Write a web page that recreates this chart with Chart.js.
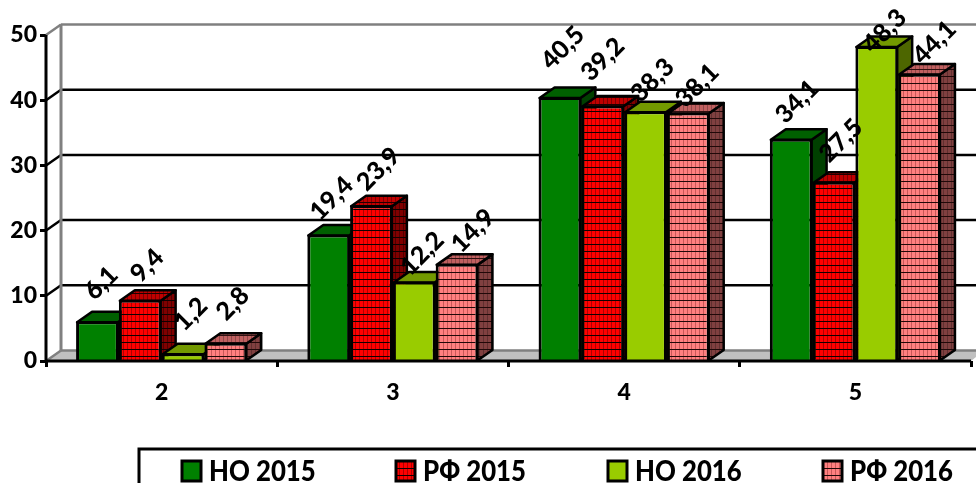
<!DOCTYPE html>
<html>
<head>
<meta charset="utf-8">
<style>
  html, body { margin: 0; padding: 0; background: #fff; overflow: hidden; }
  canvas { display: block; }
</style>
<script src="https://cdn.jsdelivr.net/npm/chart.js@4"></script>
</head>
<body>
<canvas id="chart" width="976" height="483"></canvas>
<script>
const categories = ['2', '3', '4', '5'];
const seriesNames = ['НО 2015', 'РФ 2015', 'НО 2016', 'РФ 2016'];
const no2015 = [6.1, 19.4, 40.5, 34.1];
const rf2015 = [9.4, 23.9, 39.2, 27.5];
const no2016 = [1.2, 12.2, 38.3, 48.3];
const rf2016 = [2.8, 14.9, 38.1, 44.1];

const FONT = 'Lato, Carlito, "Open Sans", sans-serif';
const DEPTH_X = 15;
const DEPTH_Y = -10.5;

// small nudges for the data labels, they were hand placed in the original
const labelNudge = [
  [[4, -38], [3, -36], [3, -49], [6, -37]],
  [[7, -34], [7, -36], [0, -46], [7, -41]],
  [[8, -39], [8, -28], [7, -31], [8, -15]],
  [[7, -39], [16, -33], [9, -27], [15, -31]]
];

function gridPattern(base, line, hLine) {
  const c = document.createElement('canvas');
  c.width = 4;
  c.height = 7;
  const g = c.getContext('2d');
  g.fillStyle = base;
  g.fillRect(0, 0, 4, 7);
  g.fillStyle = line;
  g.fillRect(3, 0, 1, 7);
  g.fillStyle = hLine;
  g.fillRect(0, 6, 4, 1);
  return document.createElement('canvas').getContext('2d').createPattern(c, 'repeat');
}

const fronts = ['#008000', gridPattern('#ff0000', '#b00000', '#100000'), '#99cc00', gridPattern('#ff8080', '#c85858', '#200808')];
const tops = ['#006000', gridPattern('#c00000', '#800000', '#200000'), '#739900', gridPattern('#c06060', '#904848', '#301010')];
const sides = ['#004000', gridPattern('#800000', '#500000', '#100000'), '#4d6600', gridPattern('#804040', '#603030', '#200808')];

function face(ctx, pts, fill) {
  ctx.beginPath();
  pts.forEach((p, i) => (i ? ctx.lineTo(p[0], p[1]) : ctx.moveTo(p[0], p[1])));
  ctx.closePath();
  ctx.fillStyle = fill;
  ctx.fill();
  ctx.stroke();
}

function drawWall(chart) {
  const { ctx, scales, width } = chart;
  const y = scales.y;
  const left = scales.x.left;
  const right = scales.x.right;
  const y0 = y.getPixelForValue(0);
  ctx.save();

  ctx.fillStyle = '#c0c0c0';
  ctx.beginPath();
  ctx.moveTo(left, y0);
  ctx.lineTo(left + DEPTH_X, y0 + DEPTH_Y);
  ctx.lineTo(width, y0 + DEPTH_Y);
  ctx.lineTo(width, y0 - 4);
  ctx.lineTo(right, y0);
  ctx.closePath();
  ctx.fill();

  y.ticks.forEach(t => {
    const py = y.getPixelForValue(t.value);
    ctx.lineWidth = 2.5;
    ctx.strokeStyle = t.value === 50 || t.value === 0 ? '#808080' : '#000';
    ctx.beginPath();
    ctx.moveTo(left + DEPTH_X, py + DEPTH_Y);
    ctx.lineTo(width, py + DEPTH_Y);
    ctx.stroke();
    ctx.beginPath();
    ctx.moveTo(left, py);
    ctx.lineTo(left + DEPTH_X, py + DEPTH_Y);
    ctx.stroke();
  });

  ctx.strokeStyle = '#808080';
  ctx.lineWidth = 3;
  ctx.beginPath();
  ctx.moveTo(left + DEPTH_X, y.getPixelForValue(50) + DEPTH_Y);
  ctx.lineTo(left + DEPTH_X, y0 + DEPTH_Y);
  ctx.stroke();
  ctx.restore();
}

// chart.js paints the first dataset last, here it has to go first so the
// next bar covers the side of the previous one
const depthPlugin = {
  id: 'depth',
  beforeDatasetsDraw(chart) {
    drawWall(chart);
    const { ctx } = chart;
    chart.data.datasets.forEach((ds, i) => {
      const meta = chart.getDatasetMeta(i);
      ctx.save();
      ctx.strokeStyle = '#000';
      ctx.lineWidth = 2.5;
      ctx.lineJoin = 'round';
      meta.data.forEach(bar => {
        const l = bar.x - bar.width / 2 + 1;
        const r = bar.x + bar.width / 2 - 1;
        const t = bar.y + 1;
        const b = bar.base;
        face(ctx, [[r, b], [r + DEPTH_X, b + DEPTH_Y], [r + DEPTH_X, t + DEPTH_Y], [r, t]], sides[i]);
        face(ctx, [[l, t], [l + DEPTH_X, t + DEPTH_Y], [r + DEPTH_X, t + DEPTH_Y], [r, t]], tops[i]);
      });
      ctx.restore();
      meta.controller.draw();
    });
  },
  beforeDatasetDraw() {
    return false;
  }
};

// rotated values, axis lines and the boxed legend go on last
const overlayPlugin = {
  id: 'overlay',
  afterDraw(chart) {
    const { ctx, scales, width, height } = chart;
    const left = scales.x.left;
    const y0 = scales.y.getPixelForValue(0);
    ctx.save();

    ctx.strokeStyle = '#000';
    ctx.lineWidth = 3;
    ctx.beginPath();
    ctx.moveTo(left, scales.y.getPixelForValue(50));
    ctx.lineTo(left, y0);
    ctx.lineTo(scales.x.right, y0);
    ctx.stroke();

    ctx.fillStyle = '#000';
    ctx.font = '900 25px ' + FONT;
    ctx.textAlign = 'center';
    ctx.textBaseline = 'middle';
    chart.data.datasets.forEach((ds, i) => {
      chart.getDatasetMeta(i).data.forEach((bar, j) => {
        const [dx, dy] = labelNudge[i][j];
        ctx.save();
        ctx.translate(bar.x + dx, bar.y + dy);
        ctx.rotate(-Math.PI / 4);
        ctx.fillText(String(ds.data[j]).replace('.', ','), 0, 0);
        ctx.restore();
      });
    });

    ctx.strokeRect(139, 449, width, height);
    const swatchX = [182, 396, 608, 823];
    ctx.textAlign = 'left';
    chart.data.datasets.forEach((ds, i) => {
      ctx.fillStyle = ds.backgroundColor;
      ctx.fillRect(swatchX[i], 461, 19, 20);
      ctx.strokeRect(swatchX[i], 461, 19, 20);
      ctx.fillStyle = '#000';
      // the original font is narrower than Lato, squeeze it a little
      ctx.save();
      ctx.translate(swatchX[i] + 27, 472);
      ctx.scale(0.92, 1);
      ctx.font = '900 28px ' + FONT;
      ctx.fillText(ds.label, 0, 0);
      ctx.restore();
    });
    ctx.restore();
  }
};

const seriesValues = [no2015, rf2015, no2016, rf2016];

new Chart(document.getElementById('chart'), {
  type: 'bar',
  data: {
    labels: categories,
    datasets: seriesValues.map((values, i) => ({
      label: seriesNames[i],
      data: values,
      backgroundColor: fronts[i],
      borderColor: '#000',
      borderWidth: 3
    }))
  },
  options: {
    responsive: false,
    animation: false,
    layout: { padding: { top: 35, right: 5, left: 0, bottom: 0 } },
    plugins: { legend: { display: false }, tooltip: { enabled: false } },
    datasets: { bar: { categoryPercentage: 0.74, barPercentage: 1 } },
    scales: {
      x: {
        grid: { drawOnChartArea: false, drawTicks: true, tickLength: 6, tickWidth: 3, tickColor: '#000' },
        border: { display: false },
        ticks: { color: '#000', padding: 12, font: { family: FONT, weight: '900', size: 23 } },
        afterFit(scale) { scale.height = 122; }
      },
      y: {
        min: 0,
        max: 50,
        grid: { drawOnChartArea: false, drawTicks: true, tickLength: 6, tickWidth: 3, tickColor: '#000' },
        border: { display: false },
        ticks: { stepSize: 10, color: '#000', padding: 3, font: { family: FONT, weight: '900', size: 23 } },
        afterFit(scale) { scale.width = 46; scale.paddingTop = 0; }
      }
    }
  },
  plugins: [depthPlugin, overlayPlugin]
});
</script>
</body>
</html>
